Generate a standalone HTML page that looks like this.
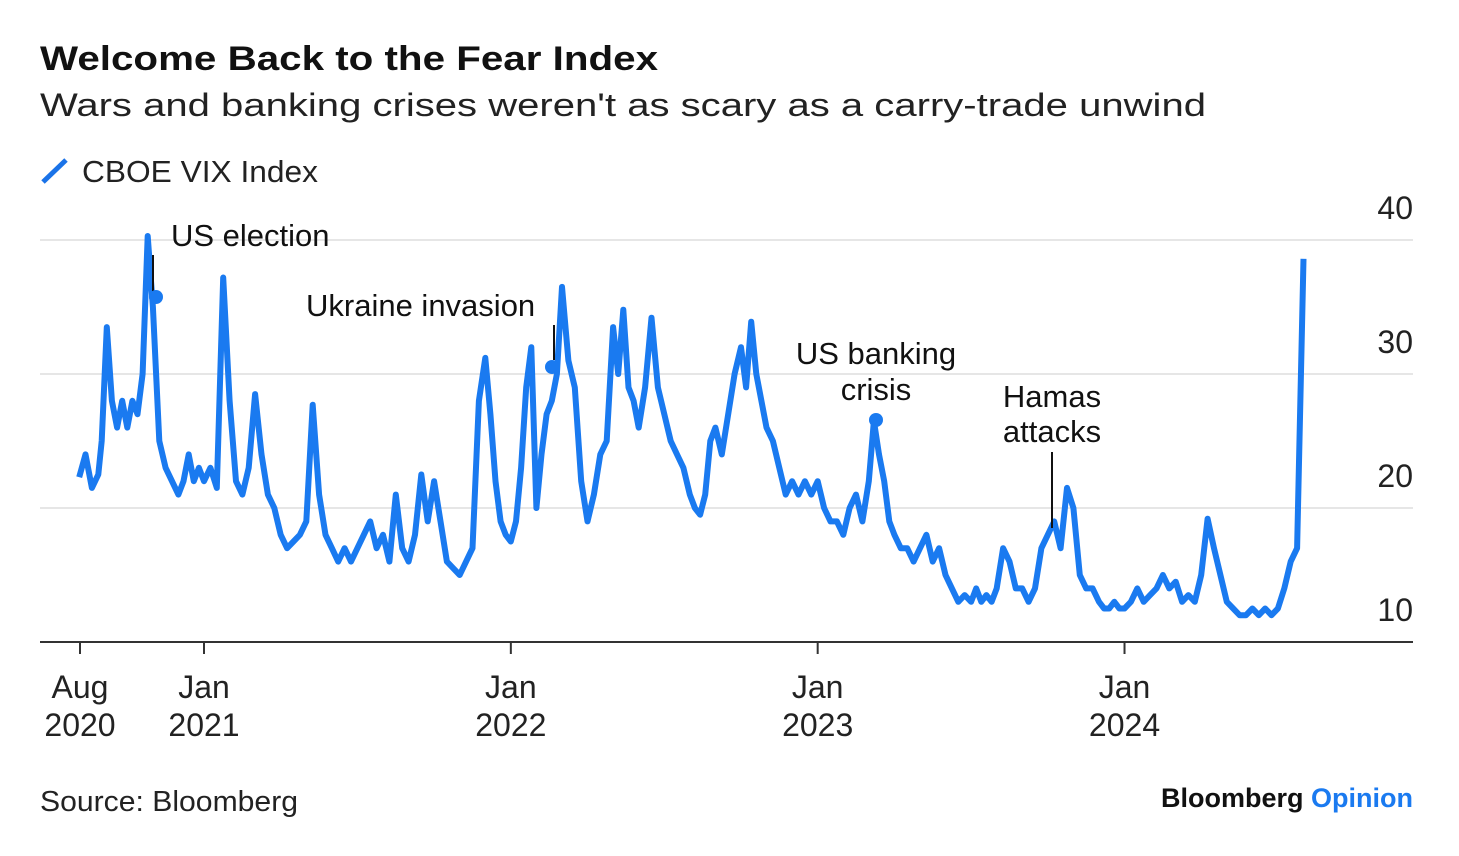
<!DOCTYPE html>
<html><head><meta charset="utf-8"><style>
html,body{margin:0;padding:0;background:#fff;}
svg{display:block;font-family:"Liberation Sans",Arial,sans-serif;}
</style></head><body>
<svg id="chart" width="1459" height="856" viewBox="0 0 1459 856">
<text x="40" y="70" font-size="34" font-weight="bold" fill="#111" textLength="618" lengthAdjust="spacingAndGlyphs">Welcome Back to the Fear Index</text>
<text x="40" y="116" font-size="32" fill="#222" textLength="1166" lengthAdjust="spacingAndGlyphs">Wars and banking crises weren't as scary as a carry-trade unwind</text>
<g>
<line x1="43" y1="182" x2="66" y2="160" stroke="#1a73e8" stroke-width="5"/>
<text x="82" y="182" font-size="31" fill="#222" textLength="236" lengthAdjust="spacingAndGlyphs">CBOE VIX Index</text>
</g>
<g id="grid"></g>
<g id="yt"></g>
<g id="xt"></g>
<path id="line" fill="none" stroke="#1a7af0" stroke-width="6" stroke-linejoin="round"/>
<g id="ann"></g>
<text x="40" y="811" font-size="29" fill="#222" textLength="258" lengthAdjust="spacingAndGlyphs">Source: Bloomberg</text>
<text x="1413" y="807" font-size="27" font-weight="bold" text-anchor="end"><tspan fill="#111">Bloomberg </tspan><tspan fill="#1a7af0">Opinion</tspan></text>
</svg>
<script>
// Monthly groups of approx weekly VIX readings, starting Aug 2020
const months = ["2020-08","2020-09","2020-10","2020-11","2020-12","2021-01","2021-02","2021-03","2021-04","2021-05","2021-06","2021-07","2021-08","2021-09","2021-10","2021-11","2021-12","2022-01","2022-02","2022-03","2022-04","2022-05","2022-06","2022-07","2022-08","2022-09","2022-10","2022-11","2022-12","2023-01","2023-02","2023-03","2023-04","2023-05","2023-06","2023-07","2023-08","2023-09","2023-10","2023-11","2023-12","2024-01","2024-02","2024-03","2024-04","2024-05","2024-06","2024-07","2024-08"];
const vixValues = [
[22.3,24,21.5,22.5],[25,33.5,28,26,28],[26,28,27,30,40.3],[35,25,23,22],[21,22,24,22,23],
[22,23,21.5,37.2],[28,22,21,23],[28.5,24,21,20],[18,17,17.5,18],[19,27.7,21,18],[17,16,17,16],
[17,18,19,17],[18,16,21,17],[16,18,22.5,19],[22,19,16,15.5],[15,16,17,28],[31.2,27,22,19,18],
[17.5,19,23,29,32],[20,24,27,28,30],[36.5,31,29,22],[19,21,24,25],[33.5,30,34.8,29,28],[26,29,34.2,29],
[27,25,24,23],[21,20,19.5,21,25],[26,24,27,30],[32,29,33.9,30,28],[26,25,23,21],[22,21,22,21],
[22,20,19,19],[18,20,21,19],[22,26.5,24,22,19],[18,17,17,16],[17,18,16,17],[15,14,13,13.5],
[13,14,13,13.5,13],[14,17,16,14],[14,13,14,17],[18,19,17,21.5],[20,15,14,14],[13,12.5,12.5,13,12.5],
[12.5,13,14,13],[13.5,14,15,14],[14.5,13,13.5,13],[15,19.2,17,15],[13,12.5,12,12],[12.5,12,12.5,12],
[12.5,14,16,17],[38.6]];
const yTicks = [10,20,30,40];
const xTickMonths = [0,5,17,29,41];
const xTickTop = ["Aug","Jan","Jan","Jan","Jan"];
const xTickBottom = ["2020","2021","2022","2023","2024"];
const annTexts = ["US election","Ukraine invasion","US banking","crisis","Hamas","attacks"];

const NS="http://www.w3.org/2000/svg";
function X(m){return 204+(m-5)*25.57;}
function Y(v){return 642-(v-10)*13.4;}
function mk(tag,attrs,parent){const e=document.createElementNS(NS,tag);for(const k in attrs)e.setAttribute(k,attrs[k]);parent.appendChild(e);return e;}

const grid=document.getElementById('grid'), yt=document.getElementById('yt'), xt=document.getElementById('xt');
yTicks.forEach(v=>{
  if(v>10){const l=mk('line',{x1:40,x2:1413,y1:Y(v),y2:Y(v),stroke:'#e6e6e6','stroke-width':2},grid);
  
  }
  const t=mk('text',{x:1413,y:Y(v)-21,'font-size':32,'text-anchor':'end',fill:'#222'},yt);
  t.textContent=v;
  
  
});
const ax=mk('line',{x1:40,x2:1413,y1:642,y2:642,stroke:'#333','stroke-width':2},grid);


xTickMonths.forEach((m,i)=>{
  const x=i===0?80:X(m);
  const tk=mk('line',{x1:x,x2:x,y1:642,y2:654,stroke:'#333','stroke-width':2},xt);
  
  
  const t1=mk('text',{x:x,y:698,'font-size':32,'text-anchor':'middle',fill:'#222'},xt);
  t1.textContent=xTickTop[i];
  
  
  const t2=mk('text',{x:x,y:736,'font-size':32,'text-anchor':'middle',fill:'#222'},xt);
  t2.textContent=xTickBottom[i];
  
  
});
let d='';
vixValues.forEach((arr,m)=>{arr.forEach((v,i)=>{const x=X(m+i/arr.length)+(m===0?3:0);d+=(d?'L':'M')+x.toFixed(1)+','+Y(v).toFixed(1);});});
document.getElementById('line').setAttribute('d',d);

const ann=document.getElementById('ann');
function label(txt,x,y,anchor){const t=mk('text',{x:x,y:y,'font-size':31,'text-anchor':anchor,fill:'#111'},ann);t.textContent=txt;

}
function leader(x,y1,y2){const l=mk('line',{x1:x,x2:x,y1:y1,y2:y2,stroke:'#111','stroke-width':2},ann);

}
function dot(x,y){const c=mk('circle',{cx:x,cy:y,r:7,fill:'#1a7af0'},ann);

}
label(annTexts[0],171,246,'start'); leader(153,255,292); dot(156,297);
label(annTexts[1],306,316,'start'); leader(554,325,360); dot(552,367);
label(annTexts[2],876,364,'middle'); label(annTexts[3],876,400,'middle'); dot(876,420);
label(annTexts[4],1052,407,'middle'); label(annTexts[5],1052,442,'middle'); leader(1052,452,528);
</script>
</body></html>
